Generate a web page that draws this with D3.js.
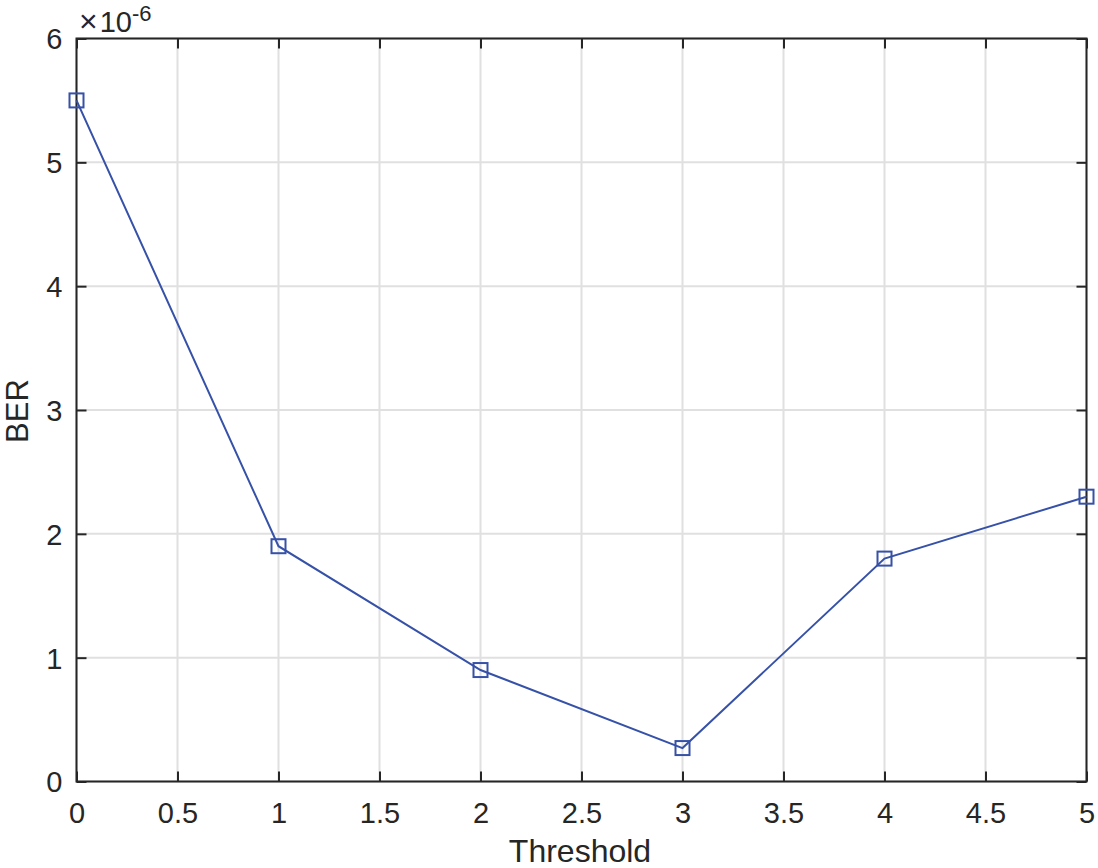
<!DOCTYPE html>
<html><head><meta charset="utf-8">
<script src="https://cdn.jsdelivr.net/npm/d3@7"></script>
<style>body{margin:0;background:#fff;}svg{display:block;font-family:"Liberation Sans",Arial,sans-serif;}</style>
</head><body>
<svg id="c" width="1098" height="868"></svg>
<script>
const thresholds = [0, 1, 2, 3, 4, 5];
const ber = [5.5, 1.9, 0.9, 0.27, 1.8, 2.3]; // x 1e-6
const xTicks = [0, 0.5, 1, 1.5, 2, 2.5, 3, 3.5, 4, 4.5, 5];
const yTicks = [0, 1, 2, 3, 4, 5, 6];

const svg = d3.select("#c");
const L = 76.5, R = 1086.5, T = 38.5, B = 781.5;
const x = d3.scaleLinear().domain([0, 5]).range([L, R]);
const y = d3.scaleLinear().domain([0, 6]).range([B, T]);
const tickLen = 10;
const ink = "#262626";
const FF = '"Liberation Sans",Arial,sans-serif';

// grid
svg.append("g").selectAll("line").data(xTicks).join("line")
  .attr("x1", d => x(d)).attr("x2", d => x(d)).attr("y1", T).attr("y2", B)
  .attr("stroke", "#e0e0e0").attr("stroke-width", 2);
svg.append("g").selectAll("line").data(yTicks).join("line")
  .attr("y1", d => y(d)).attr("y2", d => y(d)).attr("x1", L).attr("x2", R)
  .attr("stroke", "#e0e0e0").attr("stroke-width", 2);

const fmt = d3.format("");
const ax = svg.append("g").attr("transform", `translate(0,${B})`)
  .call(d3.axisBottom(x).tickValues(xTicks).tickSizeInner(-tickLen).tickSizeOuter(0).tickFormat(fmt));
const axT = svg.append("g").attr("transform", `translate(0,${T})`)
  .call(d3.axisTop(x).tickValues(xTicks).tickSizeInner(-tickLen).tickSizeOuter(0).tickFormat(""));
const ay = svg.append("g").attr("transform", `translate(${L},0)`)
  .call(d3.axisLeft(y).tickValues(yTicks).tickSizeInner(-tickLen).tickSizeOuter(0).tickFormat(fmt));
const ayR = svg.append("g").attr("transform", `translate(${R},0)`)
  .call(d3.axisRight(y).tickValues(yTicks).tickSizeInner(-tickLen).tickSizeOuter(0).tickFormat(""));
[ax, axT, ay, ayR].forEach(g => {
  g.attr("font-size", null).attr("font-family", null);
  g.select(".domain").remove();
  g.selectAll(".tick line").attr("stroke", ink).attr("stroke-width", 2);
  g.selectAll("text").attr("fill", ink).style("font-size", "29px").style("font-family", FF);
});
ax.selectAll("text").attr("y", 21).attr("dy", "0.72em");
ay.selectAll("text").attr("x", -14).attr("dy", "0.36em");

// box
svg.append("rect").attr("x", L).attr("y", T).attr("width", R - L).attr("height", B - T)
  .attr("fill", "none").attr("stroke", ink).attr("stroke-width", 2);

// line
const data = thresholds.map((t, i) => ({t, v: ber[i]}));
const blue = "#3651a8";
svg.append("path").datum(data)
  .attr("d", d3.line().x(d => x(d.t)).y(d => y(d.v)))
  .attr("fill", "none").attr("stroke", blue).attr("stroke-width", 2);
svg.append("g").selectAll("rect").data(data).join("rect")
  .attr("x", d => x(d.t) - 7).attr("y", d => y(d.v) - 7)
  .attr("width", 14).attr("height", 14)
  .attr("fill", "none").attr("stroke", blue).attr("stroke-width", 2);

// exponent
const ex = svg.append("text").attr("x", 79).attr("y", 32).attr("fill", ink)
  .style("font-family", FF);
ex.append("tspan").text("\u00d7").style("font-size", "32px");
ex.append("tspan").text("10").attr("dx", 2).style("font-size", "29px");
ex.append("tspan").text("-6").attr("dy", -11).style("font-size", "22px");

// labels
svg.append("text").attr("x", 580).attr("y", 862).attr("text-anchor", "middle")
  .style("font-size", "32px").style("font-family", FF).attr("fill", ink).text("Threshold");
svg.append("text").attr("transform", `translate(28,411) rotate(-90)`)
  .attr("text-anchor", "middle").style("font-size", "31px").style("font-family", FF).attr("fill", ink).text("BER");
</script>
</body></html>
